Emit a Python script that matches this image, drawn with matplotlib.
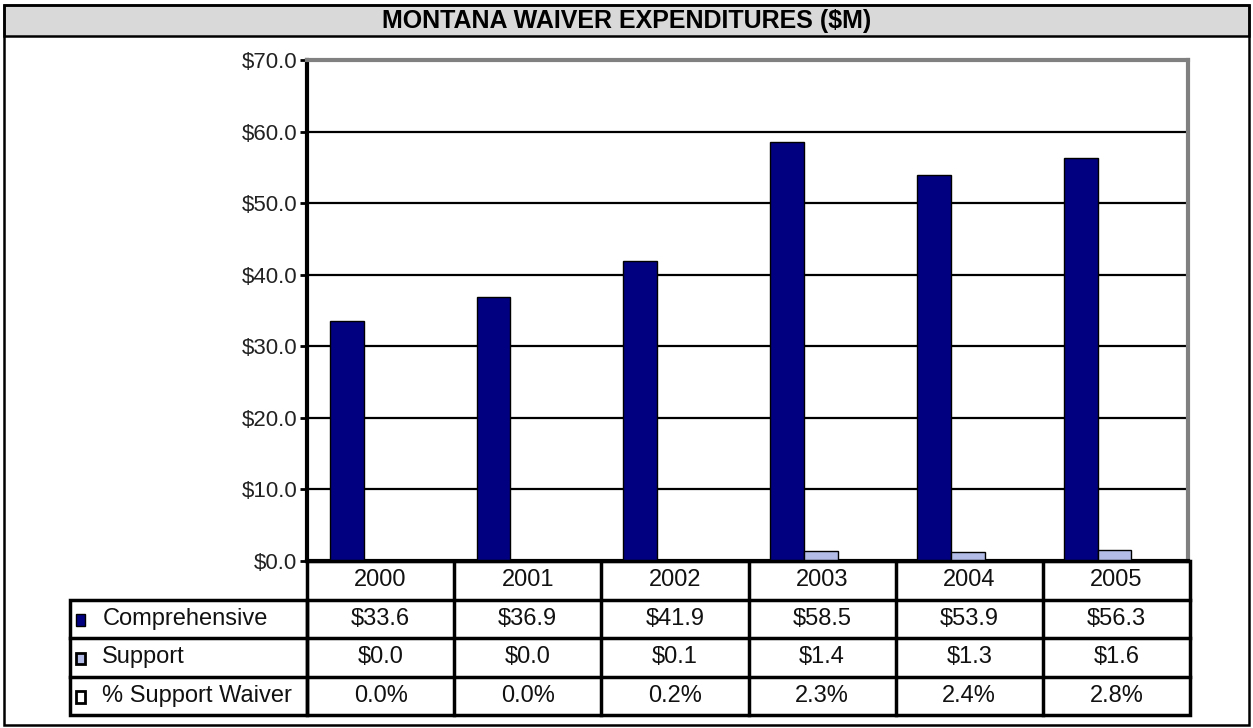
import numpy as np
import matplotlib.pyplot as plt
from matplotlib.patches import Rectangle

plt.rcParams['font.family'] = ['Liberation Sans', 'DejaVu Sans']

# chart data
years = ["2000", "2001", "2002", "2003", "2004", "2005"]
comprehensive = [33.6, 36.9, 41.9, 58.5, 53.9, 56.3]
support = [0.0, 0.0, 0.1, 1.4, 1.3, 1.6]
pct_support = [0.000, 0.000, 0.002, 0.023, 0.024, 0.028]
series_names = ["Comprehensive", "Support", "% Support Waiver"]
y_ticks = [0, 10, 20, 30, 40, 50, 60, 70]

# table text, as printed under the chart
comp_labels = ["$33.6", "$36.9", "$41.9", "$58.5", "$53.9", "$56.3"]
support_labels = ["$0.0", "$0.0", "$0.1", "$1.4", "$1.3", "$1.6"]
pct_labels = ["0.0%", "0.0%", "0.2%", "2.3%", "2.4%", "2.8%"]

navy = "#000080"
light = "#b3bce6"

W, H = 1253, 728
fig = plt.figure(figsize=(W / 100, H / 100), dpi=100)

def fx(px):
    return px / W

def fy(py):
    return 1 - py / H

# outer frame and title band
bg = fig.add_axes([0, 0, 1, 1])
bg.set_xlim(0, W)
bg.set_ylim(H, 0)
bg.axis("off")
bg.add_patch(Rectangle((4, 5), W - 8, 31, facecolor="#d9d9d9", edgecolor="black", lw=1.8))
bg.add_patch(Rectangle((4, 5), W - 8, H - 8, facecolor="none", edgecolor="black", lw=1.8))
bg.text(W / 2, 21, "MONTANA WAIVER EXPENDITURES ($M)", ha="center", va="center",
        fontsize=18, fontweight="bold")

# main bar chart
left, right, top, bottom = 307, 1188, 60, 561
ax = fig.add_axes([fx(left), fy(bottom), fx(right - left), fy(top) - fy(bottom)])
x = np.arange(len(years))
w = 0.23
ax.bar(x - w, comprehensive, w, color=navy, edgecolor="black", lw=1, zorder=3)
ax.bar(x, support, w, color=light, edgecolor="black", lw=1, zorder=3)
ax.bar(x + w, pct_support, w, color="white", edgecolor="black", lw=1, zorder=3)
ax.set_xlim(-0.5, len(years) - 0.5)
ax.set_ylim(0, 70)
ax.set_yticks(y_ticks)
ax.set_yticklabels(["${:.1f}".format(v) for v in y_ticks], fontsize=16, color="#222222")
ax.set_xticks([])
ax.tick_params(axis="y", length=5, width=2, direction="out", pad=2)
ax.yaxis.grid(True, color="black", lw=1.6, zorder=0)
ax.spines["left"].set_linewidth(3)
ax.spines["bottom"].set_linewidth(3)
for s in ["top", "right"]:
    ax.spines[s].set_color("#808080")
    ax.spines[s].set_linewidth(3)

# data table under the chart
t_top, t_bot = 561, 715
tab = fig.add_axes([fx(left), fy(t_bot), fx(1190 - left), fy(t_top) - fy(t_bot)])
tab.set_xlim(-0.5, len(years) - 0.5)
tab.set_ylim(4, 0)
tab.axis("off")
lab_left = -0.5 - (left - 70) / ((1190 - left) / len(years))
lw = 2.5
tab.add_patch(Rectangle((-0.5, 0), len(years), 4, fill=False, lw=lw, clip_on=False))
tab.add_patch(Rectangle((lab_left, 1), -0.5 - lab_left, 3, fill=False, lw=lw, clip_on=False))
for r in [1, 2, 3]:
    tab.plot([lab_left if r > 1 else -0.5, len(years) - 0.5], [r, r], color="black", lw=lw,
             clip_on=False)
for c in range(1, len(years)):
    tab.plot([c - 0.5, c - 0.5], [0, 4], color="black", lw=lw, clip_on=False)

rows = [years, comp_labels, support_labels, pct_labels]
for r, vals in enumerate(rows):
    for c, v in enumerate(vals):
        tab.text(c, r + 0.5, v, ha="center", va="center", fontsize=17, color="#111111")

key_x = lab_left + 0.04
key_faces = [navy, light, "white"]
for i, name in enumerate(series_names):
    tab.add_patch(Rectangle((key_x, i + 1.38), 0.06, 0.3, facecolor=key_faces[i],
                            edgecolor="black", lw=2 if i else 1, clip_on=False))
    tab.text(key_x + 0.18, i + 1.5, name, ha="left", va="center", fontsize=17, color="#111111")

fig.savefig("out.png", dpi=100)
